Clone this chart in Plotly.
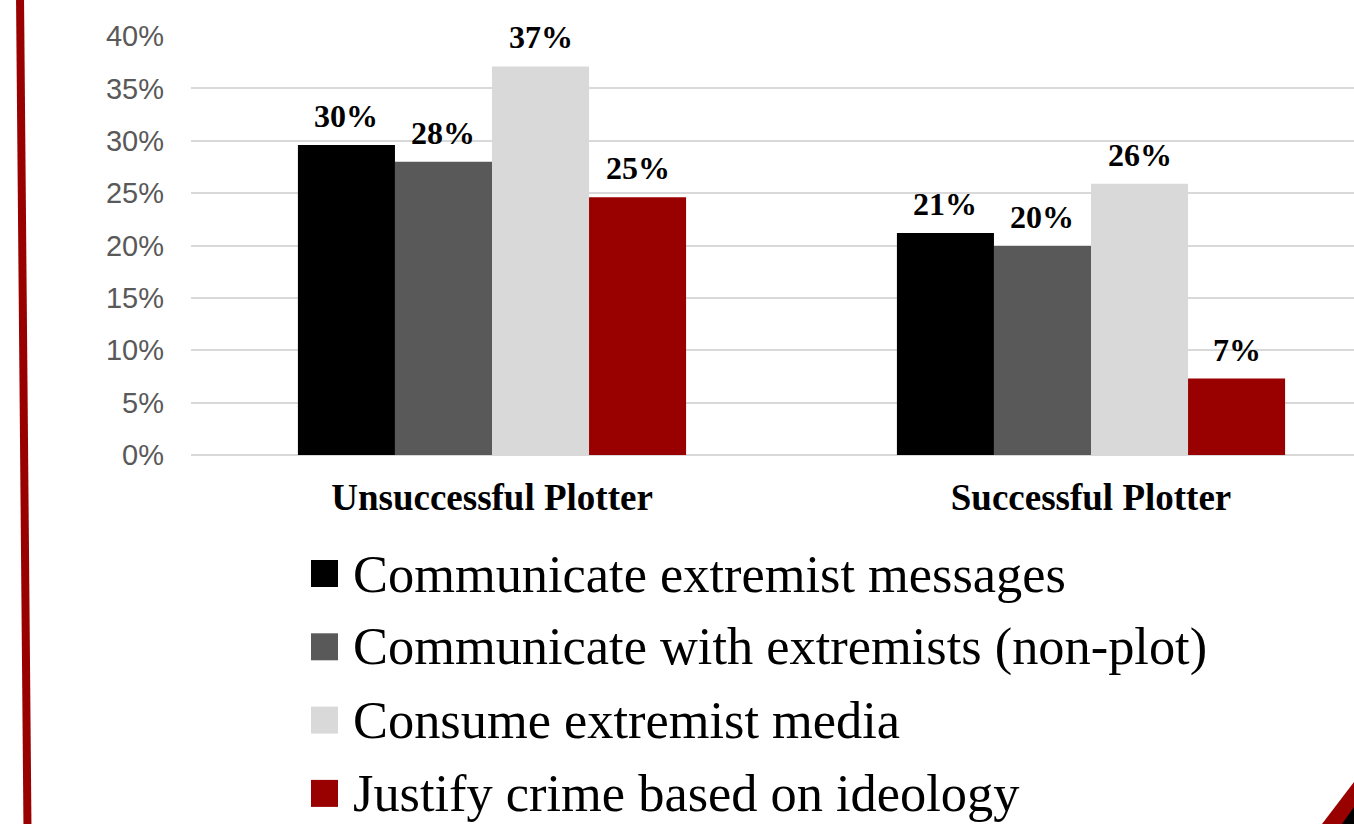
import plotly.graph_objects as go

categories = ["Unsuccessful Plotter", "Successful Plotter"]
series_names = [
    "Communicate extremist messages",
    "Communicate with extremists (non-plot)",
    "Consume extremist media",
    "Justify crime based on ideology",
]
comm_messages = [0.296, 0.212]
comm_extremists = [0.280, 0.1995]
consume_media = [0.371, 0.259]
justify_crime = [0.246, 0.073]
series_values = [comm_messages, comm_extremists, consume_media, justify_crime]
colors = ["#000000", "#595959", "#d9d9d9", "#990000"]
y_ticks = [0, 0.05, 0.10, 0.15, 0.20, 0.25, 0.30, 0.35, 0.40]

W, H = 1354, 824
L, R, T, B = 191, 0, 36, 369
PW, PH = W - L - R, H - T - B

def px(x):
    return (x - L) / PW

def py(y):
    return (H - B - y) / PH

SERIF = "Times New Roman, Liberation Serif, serif"
SANS = "Arial, Liberation Sans, sans-serif"

fig = go.Figure()
for name, vals, col in zip(series_names, series_values, colors):
    fig.add_trace(go.Bar(name=name, x=categories, y=vals, marker_color=col,
                         marker_line_width=0, showlegend=False))

bargap = 0.352
bw = (1 - bargap) / len(series_names)
annotations = []
for si, vals in enumerate(series_values):
    off = -(1 - bargap) / 2 + bw * (si + 0.5)
    for ci, v in enumerate(vals):
        annotations.append(dict(x=ci + off, y=v, xref="x", yref="y",
                                text=f"{round(v*100):.0f}%", showarrow=False,
                                yanchor="bottom", yshift=9,
                                font=dict(family=SERIF, size=32, color="#000000",
                                          weight="bold")))

# manual legend
shapes = []
leg_y0 = 573.5
leg_dy = 73.3
for i, (name, col) in enumerate(zip(series_names, colors)):
    cy = leg_y0 + leg_dy * i
    shapes.append(dict(type="rect", xref="paper", yref="paper",
                       x0=px(311), x1=px(338), y0=py(cy - 13.5), y1=py(cy + 13.5),
                       fillcolor=col, line_width=0, layer="above"))
    annotations.append(dict(x=px(351), y=py(cy), xref="paper", yref="paper",
                            text=name, showarrow=False, xanchor="left", yanchor="middle",
                            font=dict(family=SERIF, size=52.4, color="#000000")))

# slide decorations
shapes.append(dict(type="line", xref="paper", yref="paper",
                   x0=px(20), y0=py(-5), x1=px(27.5), y1=py(830),
                   line=dict(color="#990000", width=8)))
shapes.append(dict(type="path", xref="paper", yref="paper",
                   path=f"M {px(1322)} {py(824)} L {px(1354)} {py(782)} L {px(1354)} {py(824)} Z",
                   fillcolor="#990000", line_width=0))
shapes.append(dict(type="path", xref="paper", yref="paper",
                   path=f"M {px(1342)} {py(824)} L {px(1354)} {py(807)} L {px(1354)} {py(824)} Z",
                   fillcolor="#000000", line_width=0))

r0 = -301 / 599
r1 = r0 + PW / 599

fig.update_layout(
    width=W, height=H,
    margin=dict(l=L, r=R, t=T, b=B, pad=0),
    paper_bgcolor="white", plot_bgcolor="white",
    barmode="group", bargap=bargap, bargroupgap=0,
    showlegend=False,
    xaxis=dict(range=[r0, r1], showgrid=False, showline=False, zeroline=False,
               ticks="outside", ticklen=10, tickcolor="rgba(0,0,0,0)",
               tickfont=dict(family=SERIF, size=37, color="#000000", weight="bold")),
    yaxis=dict(range=[0, 0.40], tickvals=y_ticks, tickformat=".0%",
               showgrid=True, gridcolor="#d9d9d9", gridwidth=2,
               zeroline=True, zerolinecolor="#d9d9d9", zerolinewidth=2,
               showline=False, ticks="", ticklabelstandoff=26,
               tickfont=dict(family=SANS, size=29, color="#595959")),
    annotations=annotations,
    shapes=shapes,
)

fig.write_html("out.html")
